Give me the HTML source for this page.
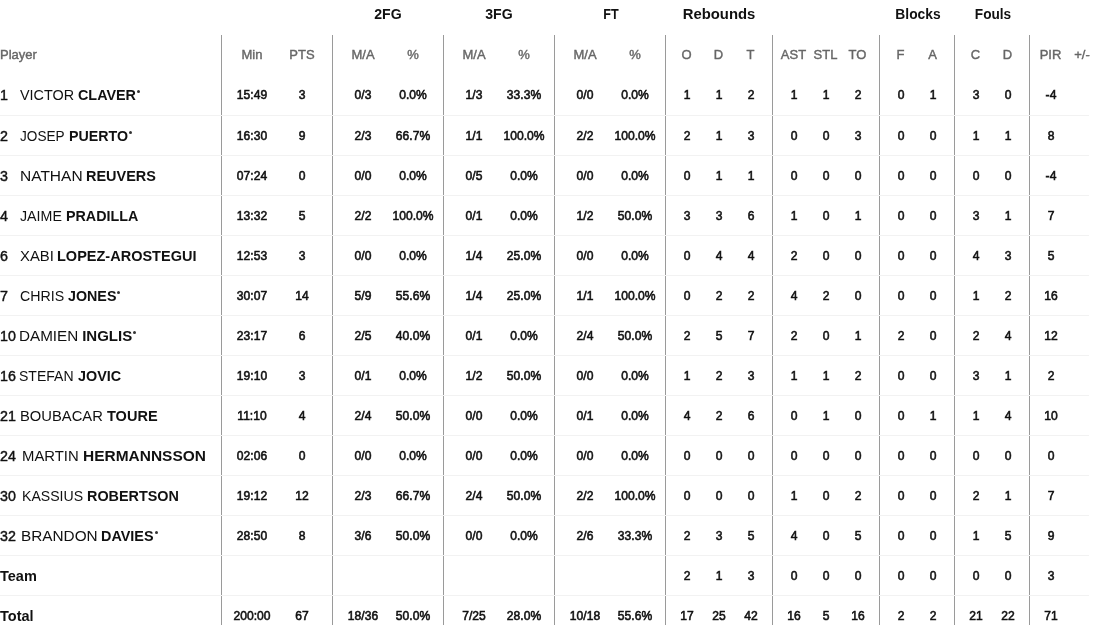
<!DOCTYPE html>
<html><head><meta charset="utf-8"><style>
html,body{margin:0;padding:0;background:#fff;}
body{width:1093px;height:625px;overflow:hidden;position:relative;font-family:"Liberation Sans",sans-serif;}
div{position:absolute;white-space:nowrap;}
.g{text-align:center;font-weight:bold;color:#111;}
.s{text-align:center;color:#666;-webkit-text-stroke:0.4px #666;}
.s.l{text-align:left;}
.nn{color:#111;-webkit-text-stroke:0.45px #111;transform:scaleX(0.95);transform-origin:0 0;}
.tt{font-weight:bold;color:#111;}
.nm{color:#111;}
.nb{font-weight:bold;color:#111;}
.st{width:3px;height:3px;border-radius:50%;background:#333;}
.d{text-align:center;color:#111;-webkit-text-stroke:0.6px #111;transform:scaleX(0.93);}
.dt{text-align:center;color:#111;}
.hl{left:0;width:1089px;height:1px;background:#f2f2f2;}
.vl{top:35px;width:1px;height:590px;background:#9a9a9a;}
#wrap{left:0;top:0;width:1093px;height:625px;will-change:transform;}
</style></head><body><div id="wrap">
<div class="vl" style="left:221px"></div><div class="vl" style="left:332px"></div><div class="vl" style="left:443px"></div><div class="vl" style="left:554px"></div><div class="vl" style="left:665px"></div><div class="vl" style="left:772px"></div><div class="vl" style="left:879px"></div><div class="vl" style="left:954px"></div><div class="vl" style="left:1029px"></div><div class="hl" style="top:115px"></div><div class="hl" style="top:155px"></div><div class="hl" style="top:195px"></div><div class="hl" style="top:235px"></div><div class="hl" style="top:275px"></div><div class="hl" style="top:315px"></div><div class="hl" style="top:355px"></div><div class="hl" style="top:395px"></div><div class="hl" style="top:435px"></div><div class="hl" style="top:475px"></div><div class="hl" style="top:515px"></div><div class="hl" style="top:555px"></div><div class="hl" style="top:595px"></div>
<div class="g" style="left:328.40px;top:6.30px;width:120px;font-size:15px;line-height:15px;transform:scaleX(0.94)">2FG</div><div class="g" style="left:439.20px;top:6.30px;width:120px;font-size:15px;line-height:15px;transform:scaleX(0.94)">3FG</div><div class="g" style="left:550.50px;top:6.30px;width:120px;font-size:15px;line-height:15px;transform:scaleX(0.84)">FT</div><div class="g" style="left:659.00px;top:6.30px;width:120px;font-size:15px;line-height:15px;transform:scaleX(0.99)">Rebounds</div><div class="g" style="left:857.50px;top:6.30px;width:120px;font-size:15px;line-height:15px;transform:scaleX(0.92)">Blocks</div><div class="g" style="left:932.50px;top:6.30px;width:120px;font-size:15px;line-height:15px;transform:scaleX(0.91)">Fouls</div><div class="s l" style="left:0.00px;top:48.00px;font-size:13px;line-height:13px">Player</div><div class="s" style="left:192.00px;top:48.00px;width:120px;font-size:13px;line-height:13px">Min</div><div class="s" style="left:242.00px;top:48.00px;width:120px;font-size:13px;line-height:13px">PTS</div><div class="s" style="left:303.00px;top:48.00px;width:120px;font-size:13px;line-height:13px">M/A</div><div class="s" style="left:353.00px;top:48.00px;width:120px;font-size:13px;line-height:13px">%</div><div class="s" style="left:414.00px;top:48.00px;width:120px;font-size:13px;line-height:13px">M/A</div><div class="s" style="left:464.00px;top:48.00px;width:120px;font-size:13px;line-height:13px">%</div><div class="s" style="left:525.00px;top:48.00px;width:120px;font-size:13px;line-height:13px">M/A</div><div class="s" style="left:575.00px;top:48.00px;width:120px;font-size:13px;line-height:13px">%</div><div class="s" style="left:626.50px;top:48.00px;width:120px;font-size:13px;line-height:13px">O</div><div class="s" style="left:658.50px;top:48.00px;width:120px;font-size:13px;line-height:13px">D</div><div class="s" style="left:690.50px;top:48.00px;width:120px;font-size:13px;line-height:13px">T</div><div class="s" style="left:733.50px;top:48.00px;width:120px;font-size:13px;line-height:13px">AST</div><div class="s" style="left:765.50px;top:48.00px;width:120px;font-size:13px;line-height:13px">STL</div><div class="s" style="left:797.50px;top:48.00px;width:120px;font-size:13px;line-height:13px">TO</div><div class="s" style="left:840.50px;top:48.00px;width:120px;font-size:13px;line-height:13px">F</div><div class="s" style="left:872.50px;top:48.00px;width:120px;font-size:13px;line-height:13px">A</div><div class="s" style="left:915.50px;top:48.00px;width:120px;font-size:13px;line-height:13px">C</div><div class="s" style="left:947.50px;top:48.00px;width:120px;font-size:13px;line-height:13px">D</div><div class="s" style="left:990.50px;top:48.00px;width:120px;font-size:13px;line-height:13px">PIR</div><div class="s" style="left:1022.00px;top:48.00px;width:120px;font-size:13px;line-height:13px">+/-</div><div class="nn l" style="left:0.00px;top:87.30px;font-size:15px;line-height:15px">1</div><div class="nm l" style="left:20.19px;top:86.88px;font-size:15.5px;line-height:15.5px;transform:scaleX(0.9276);transform-origin:0 0">VICTOR</div><div class="nm nb l" style="left:78.20px;top:87.30px;font-size:15px;line-height:15px;transform:scaleX(0.9567);transform-origin:0 0">CLAVER</div><div class="st" style="left:136.80px;top:90px"></div><div class="d" style="left:192.00px;top:88.00px;width:120px;font-size:13px;line-height:13px">15:49</div><div class="d" style="left:242.00px;top:88.00px;width:120px;font-size:13px;line-height:13px">3</div><div class="d" style="left:303.00px;top:88.00px;width:120px;font-size:13px;line-height:13px">0/3</div><div class="d" style="left:353.00px;top:88.00px;width:120px;font-size:13px;line-height:13px">0.0%</div><div class="d" style="left:414.00px;top:88.00px;width:120px;font-size:13px;line-height:13px">1/3</div><div class="d" style="left:464.00px;top:88.00px;width:120px;font-size:13px;line-height:13px">33.3%</div><div class="d" style="left:525.00px;top:88.00px;width:120px;font-size:13px;line-height:13px">0/0</div><div class="d" style="left:575.00px;top:88.00px;width:120px;font-size:13px;line-height:13px">0.0%</div><div class="d" style="left:626.50px;top:88.00px;width:120px;font-size:13px;line-height:13px">1</div><div class="d" style="left:658.50px;top:88.00px;width:120px;font-size:13px;line-height:13px">1</div><div class="d" style="left:690.50px;top:88.00px;width:120px;font-size:13px;line-height:13px">2</div><div class="d" style="left:733.50px;top:88.00px;width:120px;font-size:13px;line-height:13px">1</div><div class="d" style="left:765.50px;top:88.00px;width:120px;font-size:13px;line-height:13px">1</div><div class="d" style="left:797.50px;top:88.00px;width:120px;font-size:13px;line-height:13px">2</div><div class="d" style="left:840.50px;top:88.00px;width:120px;font-size:13px;line-height:13px">0</div><div class="d" style="left:872.50px;top:88.00px;width:120px;font-size:13px;line-height:13px">1</div><div class="d" style="left:915.50px;top:88.00px;width:120px;font-size:13px;line-height:13px">3</div><div class="d" style="left:947.50px;top:88.00px;width:120px;font-size:13px;line-height:13px">0</div><div class="d" style="left:990.50px;top:88.00px;width:120px;font-size:13px;line-height:13px">-4</div><div class="nn l" style="left:0.00px;top:128.30px;font-size:15px;line-height:15px">2</div><div class="nm l" style="left:20.19px;top:127.88px;font-size:15.5px;line-height:15.5px;transform:scaleX(0.8780);transform-origin:0 0">JOSEP</div><div class="nm nb l" style="left:68.61px;top:128.30px;font-size:15px;line-height:15px;transform:scaleX(0.9484);transform-origin:0 0">PUERTO</div><div class="st" style="left:128.90px;top:131px"></div><div class="d" style="left:192.00px;top:129.00px;width:120px;font-size:13px;line-height:13px">16:30</div><div class="d" style="left:242.00px;top:129.00px;width:120px;font-size:13px;line-height:13px">9</div><div class="d" style="left:303.00px;top:129.00px;width:120px;font-size:13px;line-height:13px">2/3</div><div class="d" style="left:353.00px;top:129.00px;width:120px;font-size:13px;line-height:13px">66.7%</div><div class="d" style="left:414.00px;top:129.00px;width:120px;font-size:13px;line-height:13px">1/1</div><div class="d" style="left:464.00px;top:129.00px;width:120px;font-size:13px;line-height:13px">100.0%</div><div class="d" style="left:525.00px;top:129.00px;width:120px;font-size:13px;line-height:13px">2/2</div><div class="d" style="left:575.00px;top:129.00px;width:120px;font-size:13px;line-height:13px">100.0%</div><div class="d" style="left:626.50px;top:129.00px;width:120px;font-size:13px;line-height:13px">2</div><div class="d" style="left:658.50px;top:129.00px;width:120px;font-size:13px;line-height:13px">1</div><div class="d" style="left:690.50px;top:129.00px;width:120px;font-size:13px;line-height:13px">3</div><div class="d" style="left:733.50px;top:129.00px;width:120px;font-size:13px;line-height:13px">0</div><div class="d" style="left:765.50px;top:129.00px;width:120px;font-size:13px;line-height:13px">0</div><div class="d" style="left:797.50px;top:129.00px;width:120px;font-size:13px;line-height:13px">3</div><div class="d" style="left:840.50px;top:129.00px;width:120px;font-size:13px;line-height:13px">0</div><div class="d" style="left:872.50px;top:129.00px;width:120px;font-size:13px;line-height:13px">0</div><div class="d" style="left:915.50px;top:129.00px;width:120px;font-size:13px;line-height:13px">1</div><div class="d" style="left:947.50px;top:129.00px;width:120px;font-size:13px;line-height:13px">1</div><div class="d" style="left:990.50px;top:129.00px;width:120px;font-size:13px;line-height:13px">8</div><div class="nn l" style="left:0.00px;top:168.30px;font-size:15px;line-height:15px">3</div><div class="nm l" style="left:20.00px;top:167.88px;font-size:15.5px;line-height:15.5px;transform:scaleX(1.0000);transform-origin:0 0">NATHAN</div><div class="nm nb l" style="left:86.04px;top:168.30px;font-size:15px;line-height:15px;transform:scaleX(0.9634);transform-origin:0 0">REUVERS</div><div class="d" style="left:192.00px;top:169.00px;width:120px;font-size:13px;line-height:13px">07:24</div><div class="d" style="left:242.00px;top:169.00px;width:120px;font-size:13px;line-height:13px">0</div><div class="d" style="left:303.00px;top:169.00px;width:120px;font-size:13px;line-height:13px">0/0</div><div class="d" style="left:353.00px;top:169.00px;width:120px;font-size:13px;line-height:13px">0.0%</div><div class="d" style="left:414.00px;top:169.00px;width:120px;font-size:13px;line-height:13px">0/5</div><div class="d" style="left:464.00px;top:169.00px;width:120px;font-size:13px;line-height:13px">0.0%</div><div class="d" style="left:525.00px;top:169.00px;width:120px;font-size:13px;line-height:13px">0/0</div><div class="d" style="left:575.00px;top:169.00px;width:120px;font-size:13px;line-height:13px">0.0%</div><div class="d" style="left:626.50px;top:169.00px;width:120px;font-size:13px;line-height:13px">0</div><div class="d" style="left:658.50px;top:169.00px;width:120px;font-size:13px;line-height:13px">1</div><div class="d" style="left:690.50px;top:169.00px;width:120px;font-size:13px;line-height:13px">1</div><div class="d" style="left:733.50px;top:169.00px;width:120px;font-size:13px;line-height:13px">0</div><div class="d" style="left:765.50px;top:169.00px;width:120px;font-size:13px;line-height:13px">0</div><div class="d" style="left:797.50px;top:169.00px;width:120px;font-size:13px;line-height:13px">0</div><div class="d" style="left:840.50px;top:169.00px;width:120px;font-size:13px;line-height:13px">0</div><div class="d" style="left:872.50px;top:169.00px;width:120px;font-size:13px;line-height:13px">0</div><div class="d" style="left:915.50px;top:169.00px;width:120px;font-size:13px;line-height:13px">0</div><div class="d" style="left:947.50px;top:169.00px;width:120px;font-size:13px;line-height:13px">0</div><div class="d" style="left:990.50px;top:169.00px;width:120px;font-size:13px;line-height:13px">-4</div><div class="nn l" style="left:0.00px;top:208.30px;font-size:15px;line-height:15px">4</div><div class="nm l" style="left:20.19px;top:207.88px;font-size:15.5px;line-height:15.5px;transform:scaleX(0.9178);transform-origin:0 0">JAIME</div><div class="nm nb l" style="left:66.05px;top:208.30px;font-size:15px;line-height:15px;transform:scaleX(0.9533);transform-origin:0 0">PRADILLA</div><div class="d" style="left:192.00px;top:209.00px;width:120px;font-size:13px;line-height:13px">13:32</div><div class="d" style="left:242.00px;top:209.00px;width:120px;font-size:13px;line-height:13px">5</div><div class="d" style="left:303.00px;top:209.00px;width:120px;font-size:13px;line-height:13px">2/2</div><div class="d" style="left:353.00px;top:209.00px;width:120px;font-size:13px;line-height:13px">100.0%</div><div class="d" style="left:414.00px;top:209.00px;width:120px;font-size:13px;line-height:13px">0/1</div><div class="d" style="left:464.00px;top:209.00px;width:120px;font-size:13px;line-height:13px">0.0%</div><div class="d" style="left:525.00px;top:209.00px;width:120px;font-size:13px;line-height:13px">1/2</div><div class="d" style="left:575.00px;top:209.00px;width:120px;font-size:13px;line-height:13px">50.0%</div><div class="d" style="left:626.50px;top:209.00px;width:120px;font-size:13px;line-height:13px">3</div><div class="d" style="left:658.50px;top:209.00px;width:120px;font-size:13px;line-height:13px">3</div><div class="d" style="left:690.50px;top:209.00px;width:120px;font-size:13px;line-height:13px">6</div><div class="d" style="left:733.50px;top:209.00px;width:120px;font-size:13px;line-height:13px">1</div><div class="d" style="left:765.50px;top:209.00px;width:120px;font-size:13px;line-height:13px">0</div><div class="d" style="left:797.50px;top:209.00px;width:120px;font-size:13px;line-height:13px">1</div><div class="d" style="left:840.50px;top:209.00px;width:120px;font-size:13px;line-height:13px">0</div><div class="d" style="left:872.50px;top:209.00px;width:120px;font-size:13px;line-height:13px">0</div><div class="d" style="left:915.50px;top:209.00px;width:120px;font-size:13px;line-height:13px">3</div><div class="d" style="left:947.50px;top:209.00px;width:120px;font-size:13px;line-height:13px">1</div><div class="d" style="left:990.50px;top:209.00px;width:120px;font-size:13px;line-height:13px">7</div><div class="nn l" style="left:0.00px;top:248.30px;font-size:15px;line-height:15px">6</div><div class="nm l" style="left:20.20px;top:247.88px;font-size:15.5px;line-height:15.5px;transform:scaleX(0.9588);transform-origin:0 0">XABI</div><div class="nm nb l" style="left:56.82px;top:248.30px;font-size:15px;line-height:15px;transform:scaleX(0.9671);transform-origin:0 0">LOPEZ-AROSTEGUI</div><div class="d" style="left:192.00px;top:249.00px;width:120px;font-size:13px;line-height:13px">12:53</div><div class="d" style="left:242.00px;top:249.00px;width:120px;font-size:13px;line-height:13px">3</div><div class="d" style="left:303.00px;top:249.00px;width:120px;font-size:13px;line-height:13px">0/0</div><div class="d" style="left:353.00px;top:249.00px;width:120px;font-size:13px;line-height:13px">0.0%</div><div class="d" style="left:414.00px;top:249.00px;width:120px;font-size:13px;line-height:13px">1/4</div><div class="d" style="left:464.00px;top:249.00px;width:120px;font-size:13px;line-height:13px">25.0%</div><div class="d" style="left:525.00px;top:249.00px;width:120px;font-size:13px;line-height:13px">0/0</div><div class="d" style="left:575.00px;top:249.00px;width:120px;font-size:13px;line-height:13px">0.0%</div><div class="d" style="left:626.50px;top:249.00px;width:120px;font-size:13px;line-height:13px">0</div><div class="d" style="left:658.50px;top:249.00px;width:120px;font-size:13px;line-height:13px">4</div><div class="d" style="left:690.50px;top:249.00px;width:120px;font-size:13px;line-height:13px">4</div><div class="d" style="left:733.50px;top:249.00px;width:120px;font-size:13px;line-height:13px">2</div><div class="d" style="left:765.50px;top:249.00px;width:120px;font-size:13px;line-height:13px">0</div><div class="d" style="left:797.50px;top:249.00px;width:120px;font-size:13px;line-height:13px">0</div><div class="d" style="left:840.50px;top:249.00px;width:120px;font-size:13px;line-height:13px">0</div><div class="d" style="left:872.50px;top:249.00px;width:120px;font-size:13px;line-height:13px">0</div><div class="d" style="left:915.50px;top:249.00px;width:120px;font-size:13px;line-height:13px">4</div><div class="d" style="left:947.50px;top:249.00px;width:120px;font-size:13px;line-height:13px">3</div><div class="d" style="left:990.50px;top:249.00px;width:120px;font-size:13px;line-height:13px">5</div><div class="nn l" style="left:0.00px;top:288.30px;font-size:15px;line-height:15px">7</div><div class="nm l" style="left:20.19px;top:287.88px;font-size:15.5px;line-height:15.5px;transform:scaleX(0.9146);transform-origin:0 0">CHRIS</div><div class="nm nb l" style="left:67.83px;top:288.30px;font-size:15px;line-height:15px;transform:scaleX(0.9520);transform-origin:0 0">JONES</div><div class="st" style="left:117.30px;top:291px"></div><div class="d" style="left:192.00px;top:289.00px;width:120px;font-size:13px;line-height:13px">30:07</div><div class="d" style="left:242.00px;top:289.00px;width:120px;font-size:13px;line-height:13px">14</div><div class="d" style="left:303.00px;top:289.00px;width:120px;font-size:13px;line-height:13px">5/9</div><div class="d" style="left:353.00px;top:289.00px;width:120px;font-size:13px;line-height:13px">55.6%</div><div class="d" style="left:414.00px;top:289.00px;width:120px;font-size:13px;line-height:13px">1/4</div><div class="d" style="left:464.00px;top:289.00px;width:120px;font-size:13px;line-height:13px">25.0%</div><div class="d" style="left:525.00px;top:289.00px;width:120px;font-size:13px;line-height:13px">1/1</div><div class="d" style="left:575.00px;top:289.00px;width:120px;font-size:13px;line-height:13px">100.0%</div><div class="d" style="left:626.50px;top:289.00px;width:120px;font-size:13px;line-height:13px">0</div><div class="d" style="left:658.50px;top:289.00px;width:120px;font-size:13px;line-height:13px">2</div><div class="d" style="left:690.50px;top:289.00px;width:120px;font-size:13px;line-height:13px">2</div><div class="d" style="left:733.50px;top:289.00px;width:120px;font-size:13px;line-height:13px">4</div><div class="d" style="left:765.50px;top:289.00px;width:120px;font-size:13px;line-height:13px">2</div><div class="d" style="left:797.50px;top:289.00px;width:120px;font-size:13px;line-height:13px">0</div><div class="d" style="left:840.50px;top:289.00px;width:120px;font-size:13px;line-height:13px">0</div><div class="d" style="left:872.50px;top:289.00px;width:120px;font-size:13px;line-height:13px">0</div><div class="d" style="left:915.50px;top:289.00px;width:120px;font-size:13px;line-height:13px">1</div><div class="d" style="left:947.50px;top:289.00px;width:120px;font-size:13px;line-height:13px">2</div><div class="d" style="left:990.50px;top:289.00px;width:120px;font-size:13px;line-height:13px">16</div><div class="nn l" style="left:0.00px;top:328.30px;font-size:15px;line-height:15px">10</div><div class="nm l" style="left:19.22px;top:327.88px;font-size:15.5px;line-height:15.5px;transform:scaleX(0.9831);transform-origin:0 0">DAMIEN</div><div class="nm nb l" style="left:82.20px;top:328.30px;font-size:15px;line-height:15px;transform:scaleX(1.0000);transform-origin:0 0">INGLIS</div><div class="st" style="left:133.40px;top:331px"></div><div class="d" style="left:192.00px;top:329.00px;width:120px;font-size:13px;line-height:13px">23:17</div><div class="d" style="left:242.00px;top:329.00px;width:120px;font-size:13px;line-height:13px">6</div><div class="d" style="left:303.00px;top:329.00px;width:120px;font-size:13px;line-height:13px">2/5</div><div class="d" style="left:353.00px;top:329.00px;width:120px;font-size:13px;line-height:13px">40.0%</div><div class="d" style="left:414.00px;top:329.00px;width:120px;font-size:13px;line-height:13px">0/1</div><div class="d" style="left:464.00px;top:329.00px;width:120px;font-size:13px;line-height:13px">0.0%</div><div class="d" style="left:525.00px;top:329.00px;width:120px;font-size:13px;line-height:13px">2/4</div><div class="d" style="left:575.00px;top:329.00px;width:120px;font-size:13px;line-height:13px">50.0%</div><div class="d" style="left:626.50px;top:329.00px;width:120px;font-size:13px;line-height:13px">2</div><div class="d" style="left:658.50px;top:329.00px;width:120px;font-size:13px;line-height:13px">5</div><div class="d" style="left:690.50px;top:329.00px;width:120px;font-size:13px;line-height:13px">7</div><div class="d" style="left:733.50px;top:329.00px;width:120px;font-size:13px;line-height:13px">2</div><div class="d" style="left:765.50px;top:329.00px;width:120px;font-size:13px;line-height:13px">0</div><div class="d" style="left:797.50px;top:329.00px;width:120px;font-size:13px;line-height:13px">1</div><div class="d" style="left:840.50px;top:329.00px;width:120px;font-size:13px;line-height:13px">2</div><div class="d" style="left:872.50px;top:329.00px;width:120px;font-size:13px;line-height:13px">0</div><div class="d" style="left:915.50px;top:329.00px;width:120px;font-size:13px;line-height:13px">2</div><div class="d" style="left:947.50px;top:329.00px;width:120px;font-size:13px;line-height:13px">4</div><div class="d" style="left:990.50px;top:329.00px;width:120px;font-size:13px;line-height:13px">12</div><div class="nn l" style="left:0.00px;top:368.30px;font-size:15px;line-height:15px">16</div><div class="nm l" style="left:19.29px;top:367.88px;font-size:15.5px;line-height:15.5px;transform:scaleX(0.9051);transform-origin:0 0">STEFAN</div><div class="nm nb l" style="left:78.20px;top:368.30px;font-size:15px;line-height:15px;transform:scaleX(0.9578);transform-origin:0 0">JOVIC</div><div class="d" style="left:192.00px;top:369.00px;width:120px;font-size:13px;line-height:13px">19:10</div><div class="d" style="left:242.00px;top:369.00px;width:120px;font-size:13px;line-height:13px">3</div><div class="d" style="left:303.00px;top:369.00px;width:120px;font-size:13px;line-height:13px">0/1</div><div class="d" style="left:353.00px;top:369.00px;width:120px;font-size:13px;line-height:13px">0.0%</div><div class="d" style="left:414.00px;top:369.00px;width:120px;font-size:13px;line-height:13px">1/2</div><div class="d" style="left:464.00px;top:369.00px;width:120px;font-size:13px;line-height:13px">50.0%</div><div class="d" style="left:525.00px;top:369.00px;width:120px;font-size:13px;line-height:13px">0/0</div><div class="d" style="left:575.00px;top:369.00px;width:120px;font-size:13px;line-height:13px">0.0%</div><div class="d" style="left:626.50px;top:369.00px;width:120px;font-size:13px;line-height:13px">1</div><div class="d" style="left:658.50px;top:369.00px;width:120px;font-size:13px;line-height:13px">2</div><div class="d" style="left:690.50px;top:369.00px;width:120px;font-size:13px;line-height:13px">3</div><div class="d" style="left:733.50px;top:369.00px;width:120px;font-size:13px;line-height:13px">1</div><div class="d" style="left:765.50px;top:369.00px;width:120px;font-size:13px;line-height:13px">1</div><div class="d" style="left:797.50px;top:369.00px;width:120px;font-size:13px;line-height:13px">2</div><div class="d" style="left:840.50px;top:369.00px;width:120px;font-size:13px;line-height:13px">0</div><div class="d" style="left:872.50px;top:369.00px;width:120px;font-size:13px;line-height:13px">0</div><div class="d" style="left:915.50px;top:369.00px;width:120px;font-size:13px;line-height:13px">3</div><div class="d" style="left:947.50px;top:369.00px;width:120px;font-size:13px;line-height:13px">1</div><div class="d" style="left:990.50px;top:369.00px;width:120px;font-size:13px;line-height:13px">2</div><div class="nn l" style="left:0.00px;top:408.30px;font-size:15px;line-height:15px">21</div><div class="nm l" style="left:20.05px;top:407.88px;font-size:15.5px;line-height:15.5px;transform:scaleX(0.9518);transform-origin:0 0">BOUBACAR</div><div class="nm nb l" style="left:106.59px;top:408.30px;font-size:15px;line-height:15px;transform:scaleX(0.9692);transform-origin:0 0">TOURE</div><div class="d" style="left:192.00px;top:409.00px;width:120px;font-size:13px;line-height:13px">11:10</div><div class="d" style="left:242.00px;top:409.00px;width:120px;font-size:13px;line-height:13px">4</div><div class="d" style="left:303.00px;top:409.00px;width:120px;font-size:13px;line-height:13px">2/4</div><div class="d" style="left:353.00px;top:409.00px;width:120px;font-size:13px;line-height:13px">50.0%</div><div class="d" style="left:414.00px;top:409.00px;width:120px;font-size:13px;line-height:13px">0/0</div><div class="d" style="left:464.00px;top:409.00px;width:120px;font-size:13px;line-height:13px">0.0%</div><div class="d" style="left:525.00px;top:409.00px;width:120px;font-size:13px;line-height:13px">0/1</div><div class="d" style="left:575.00px;top:409.00px;width:120px;font-size:13px;line-height:13px">0.0%</div><div class="d" style="left:626.50px;top:409.00px;width:120px;font-size:13px;line-height:13px">4</div><div class="d" style="left:658.50px;top:409.00px;width:120px;font-size:13px;line-height:13px">2</div><div class="d" style="left:690.50px;top:409.00px;width:120px;font-size:13px;line-height:13px">6</div><div class="d" style="left:733.50px;top:409.00px;width:120px;font-size:13px;line-height:13px">0</div><div class="d" style="left:765.50px;top:409.00px;width:120px;font-size:13px;line-height:13px">1</div><div class="d" style="left:797.50px;top:409.00px;width:120px;font-size:13px;line-height:13px">0</div><div class="d" style="left:840.50px;top:409.00px;width:120px;font-size:13px;line-height:13px">0</div><div class="d" style="left:872.50px;top:409.00px;width:120px;font-size:13px;line-height:13px">1</div><div class="d" style="left:915.50px;top:409.00px;width:120px;font-size:13px;line-height:13px">1</div><div class="d" style="left:947.50px;top:409.00px;width:120px;font-size:13px;line-height:13px">4</div><div class="d" style="left:990.50px;top:409.00px;width:120px;font-size:13px;line-height:13px">10</div><div class="nn l" style="left:0.00px;top:448.30px;font-size:15px;line-height:15px">24</div><div class="nm l" style="left:22.02px;top:447.88px;font-size:15.5px;line-height:15.5px;transform:scaleX(0.9586);transform-origin:0 0">MARTIN</div><div class="nm nb l" style="left:83.39px;top:448.30px;font-size:15px;line-height:15px;transform:scaleX(1.0314);transform-origin:0 0">HERMANNSSON</div><div class="d" style="left:192.00px;top:449.00px;width:120px;font-size:13px;line-height:13px">02:06</div><div class="d" style="left:242.00px;top:449.00px;width:120px;font-size:13px;line-height:13px">0</div><div class="d" style="left:303.00px;top:449.00px;width:120px;font-size:13px;line-height:13px">0/0</div><div class="d" style="left:353.00px;top:449.00px;width:120px;font-size:13px;line-height:13px">0.0%</div><div class="d" style="left:414.00px;top:449.00px;width:120px;font-size:13px;line-height:13px">0/0</div><div class="d" style="left:464.00px;top:449.00px;width:120px;font-size:13px;line-height:13px">0.0%</div><div class="d" style="left:525.00px;top:449.00px;width:120px;font-size:13px;line-height:13px">0/0</div><div class="d" style="left:575.00px;top:449.00px;width:120px;font-size:13px;line-height:13px">0.0%</div><div class="d" style="left:626.50px;top:449.00px;width:120px;font-size:13px;line-height:13px">0</div><div class="d" style="left:658.50px;top:449.00px;width:120px;font-size:13px;line-height:13px">0</div><div class="d" style="left:690.50px;top:449.00px;width:120px;font-size:13px;line-height:13px">0</div><div class="d" style="left:733.50px;top:449.00px;width:120px;font-size:13px;line-height:13px">0</div><div class="d" style="left:765.50px;top:449.00px;width:120px;font-size:13px;line-height:13px">0</div><div class="d" style="left:797.50px;top:449.00px;width:120px;font-size:13px;line-height:13px">0</div><div class="d" style="left:840.50px;top:449.00px;width:120px;font-size:13px;line-height:13px">0</div><div class="d" style="left:872.50px;top:449.00px;width:120px;font-size:13px;line-height:13px">0</div><div class="d" style="left:915.50px;top:449.00px;width:120px;font-size:13px;line-height:13px">0</div><div class="d" style="left:947.50px;top:449.00px;width:120px;font-size:13px;line-height:13px">0</div><div class="d" style="left:990.50px;top:449.00px;width:120px;font-size:13px;line-height:13px">0</div><div class="nn l" style="left:0.00px;top:488.30px;font-size:15px;line-height:15px">30</div><div class="nm l" style="left:22.05px;top:487.88px;font-size:15.5px;line-height:15.5px;transform:scaleX(0.9091);transform-origin:0 0">KASSIUS</div><div class="nm nb l" style="left:87.22px;top:488.30px;font-size:15px;line-height:15px;transform:scaleX(0.9589);transform-origin:0 0">ROBERTSON</div><div class="d" style="left:192.00px;top:489.00px;width:120px;font-size:13px;line-height:13px">19:12</div><div class="d" style="left:242.00px;top:489.00px;width:120px;font-size:13px;line-height:13px">12</div><div class="d" style="left:303.00px;top:489.00px;width:120px;font-size:13px;line-height:13px">2/3</div><div class="d" style="left:353.00px;top:489.00px;width:120px;font-size:13px;line-height:13px">66.7%</div><div class="d" style="left:414.00px;top:489.00px;width:120px;font-size:13px;line-height:13px">2/4</div><div class="d" style="left:464.00px;top:489.00px;width:120px;font-size:13px;line-height:13px">50.0%</div><div class="d" style="left:525.00px;top:489.00px;width:120px;font-size:13px;line-height:13px">2/2</div><div class="d" style="left:575.00px;top:489.00px;width:120px;font-size:13px;line-height:13px">100.0%</div><div class="d" style="left:626.50px;top:489.00px;width:120px;font-size:13px;line-height:13px">0</div><div class="d" style="left:658.50px;top:489.00px;width:120px;font-size:13px;line-height:13px">0</div><div class="d" style="left:690.50px;top:489.00px;width:120px;font-size:13px;line-height:13px">0</div><div class="d" style="left:733.50px;top:489.00px;width:120px;font-size:13px;line-height:13px">1</div><div class="d" style="left:765.50px;top:489.00px;width:120px;font-size:13px;line-height:13px">0</div><div class="d" style="left:797.50px;top:489.00px;width:120px;font-size:13px;line-height:13px">2</div><div class="d" style="left:840.50px;top:489.00px;width:120px;font-size:13px;line-height:13px">0</div><div class="d" style="left:872.50px;top:489.00px;width:120px;font-size:13px;line-height:13px">0</div><div class="d" style="left:915.50px;top:489.00px;width:120px;font-size:13px;line-height:13px">2</div><div class="d" style="left:947.50px;top:489.00px;width:120px;font-size:13px;line-height:13px">1</div><div class="d" style="left:990.50px;top:489.00px;width:120px;font-size:13px;line-height:13px">7</div><div class="nn l" style="left:0.00px;top:528.30px;font-size:15px;line-height:15px">32</div><div class="nm l" style="left:20.61px;top:527.88px;font-size:15.5px;line-height:15.5px;transform:scaleX(0.9893);transform-origin:0 0">BRANDON</div><div class="nm nb l" style="left:101.41px;top:528.30px;font-size:15px;line-height:15px;transform:scaleX(0.9593);transform-origin:0 0">DAVIES</div><div class="st" style="left:154.80px;top:531px"></div><div class="d" style="left:192.00px;top:529.00px;width:120px;font-size:13px;line-height:13px">28:50</div><div class="d" style="left:242.00px;top:529.00px;width:120px;font-size:13px;line-height:13px">8</div><div class="d" style="left:303.00px;top:529.00px;width:120px;font-size:13px;line-height:13px">3/6</div><div class="d" style="left:353.00px;top:529.00px;width:120px;font-size:13px;line-height:13px">50.0%</div><div class="d" style="left:414.00px;top:529.00px;width:120px;font-size:13px;line-height:13px">0/0</div><div class="d" style="left:464.00px;top:529.00px;width:120px;font-size:13px;line-height:13px">0.0%</div><div class="d" style="left:525.00px;top:529.00px;width:120px;font-size:13px;line-height:13px">2/6</div><div class="d" style="left:575.00px;top:529.00px;width:120px;font-size:13px;line-height:13px">33.3%</div><div class="d" style="left:626.50px;top:529.00px;width:120px;font-size:13px;line-height:13px">2</div><div class="d" style="left:658.50px;top:529.00px;width:120px;font-size:13px;line-height:13px">3</div><div class="d" style="left:690.50px;top:529.00px;width:120px;font-size:13px;line-height:13px">5</div><div class="d" style="left:733.50px;top:529.00px;width:120px;font-size:13px;line-height:13px">4</div><div class="d" style="left:765.50px;top:529.00px;width:120px;font-size:13px;line-height:13px">0</div><div class="d" style="left:797.50px;top:529.00px;width:120px;font-size:13px;line-height:13px">5</div><div class="d" style="left:840.50px;top:529.00px;width:120px;font-size:13px;line-height:13px">0</div><div class="d" style="left:872.50px;top:529.00px;width:120px;font-size:13px;line-height:13px">0</div><div class="d" style="left:915.50px;top:529.00px;width:120px;font-size:13px;line-height:13px">1</div><div class="d" style="left:947.50px;top:529.00px;width:120px;font-size:13px;line-height:13px">5</div><div class="d" style="left:990.50px;top:529.00px;width:120px;font-size:13px;line-height:13px">9</div><div class="tt l" style="left:0.00px;top:568.73px;font-size:14.5px;line-height:14.5px">Team</div><div class="d" style="left:626.50px;top:569.00px;width:120px;font-size:13px;line-height:13px">2</div><div class="d" style="left:658.50px;top:569.00px;width:120px;font-size:13px;line-height:13px">1</div><div class="d" style="left:690.50px;top:569.00px;width:120px;font-size:13px;line-height:13px">3</div><div class="d" style="left:733.50px;top:569.00px;width:120px;font-size:13px;line-height:13px">0</div><div class="d" style="left:765.50px;top:569.00px;width:120px;font-size:13px;line-height:13px">0</div><div class="d" style="left:797.50px;top:569.00px;width:120px;font-size:13px;line-height:13px">0</div><div class="d" style="left:840.50px;top:569.00px;width:120px;font-size:13px;line-height:13px">0</div><div class="d" style="left:872.50px;top:569.00px;width:120px;font-size:13px;line-height:13px">0</div><div class="d" style="left:915.50px;top:569.00px;width:120px;font-size:13px;line-height:13px">0</div><div class="d" style="left:947.50px;top:569.00px;width:120px;font-size:13px;line-height:13px">0</div><div class="d" style="left:990.50px;top:569.00px;width:120px;font-size:13px;line-height:13px">3</div><div class="tt l" style="left:0.00px;top:608.73px;font-size:14.5px;line-height:14.5px">Total</div><div class="d" style="left:192.00px;top:609.00px;width:120px;font-size:13px;line-height:13px">200:00</div><div class="d" style="left:242.00px;top:609.00px;width:120px;font-size:13px;line-height:13px">67</div><div class="d" style="left:303.00px;top:609.00px;width:120px;font-size:13px;line-height:13px">18/36</div><div class="d" style="left:353.00px;top:609.00px;width:120px;font-size:13px;line-height:13px">50.0%</div><div class="d" style="left:414.00px;top:609.00px;width:120px;font-size:13px;line-height:13px">7/25</div><div class="d" style="left:464.00px;top:609.00px;width:120px;font-size:13px;line-height:13px">28.0%</div><div class="d" style="left:525.00px;top:609.00px;width:120px;font-size:13px;line-height:13px">10/18</div><div class="d" style="left:575.00px;top:609.00px;width:120px;font-size:13px;line-height:13px">55.6%</div><div class="d" style="left:626.50px;top:609.00px;width:120px;font-size:13px;line-height:13px">17</div><div class="d" style="left:658.50px;top:609.00px;width:120px;font-size:13px;line-height:13px">25</div><div class="d" style="left:690.50px;top:609.00px;width:120px;font-size:13px;line-height:13px">42</div><div class="d" style="left:733.50px;top:609.00px;width:120px;font-size:13px;line-height:13px">16</div><div class="d" style="left:765.50px;top:609.00px;width:120px;font-size:13px;line-height:13px">5</div><div class="d" style="left:797.50px;top:609.00px;width:120px;font-size:13px;line-height:13px">16</div><div class="d" style="left:840.50px;top:609.00px;width:120px;font-size:13px;line-height:13px">2</div><div class="d" style="left:872.50px;top:609.00px;width:120px;font-size:13px;line-height:13px">2</div><div class="d" style="left:915.50px;top:609.00px;width:120px;font-size:13px;line-height:13px">21</div><div class="d" style="left:947.50px;top:609.00px;width:120px;font-size:13px;line-height:13px">22</div><div class="d" style="left:990.50px;top:609.00px;width:120px;font-size:13px;line-height:13px">71</div>
</div></body></html>
